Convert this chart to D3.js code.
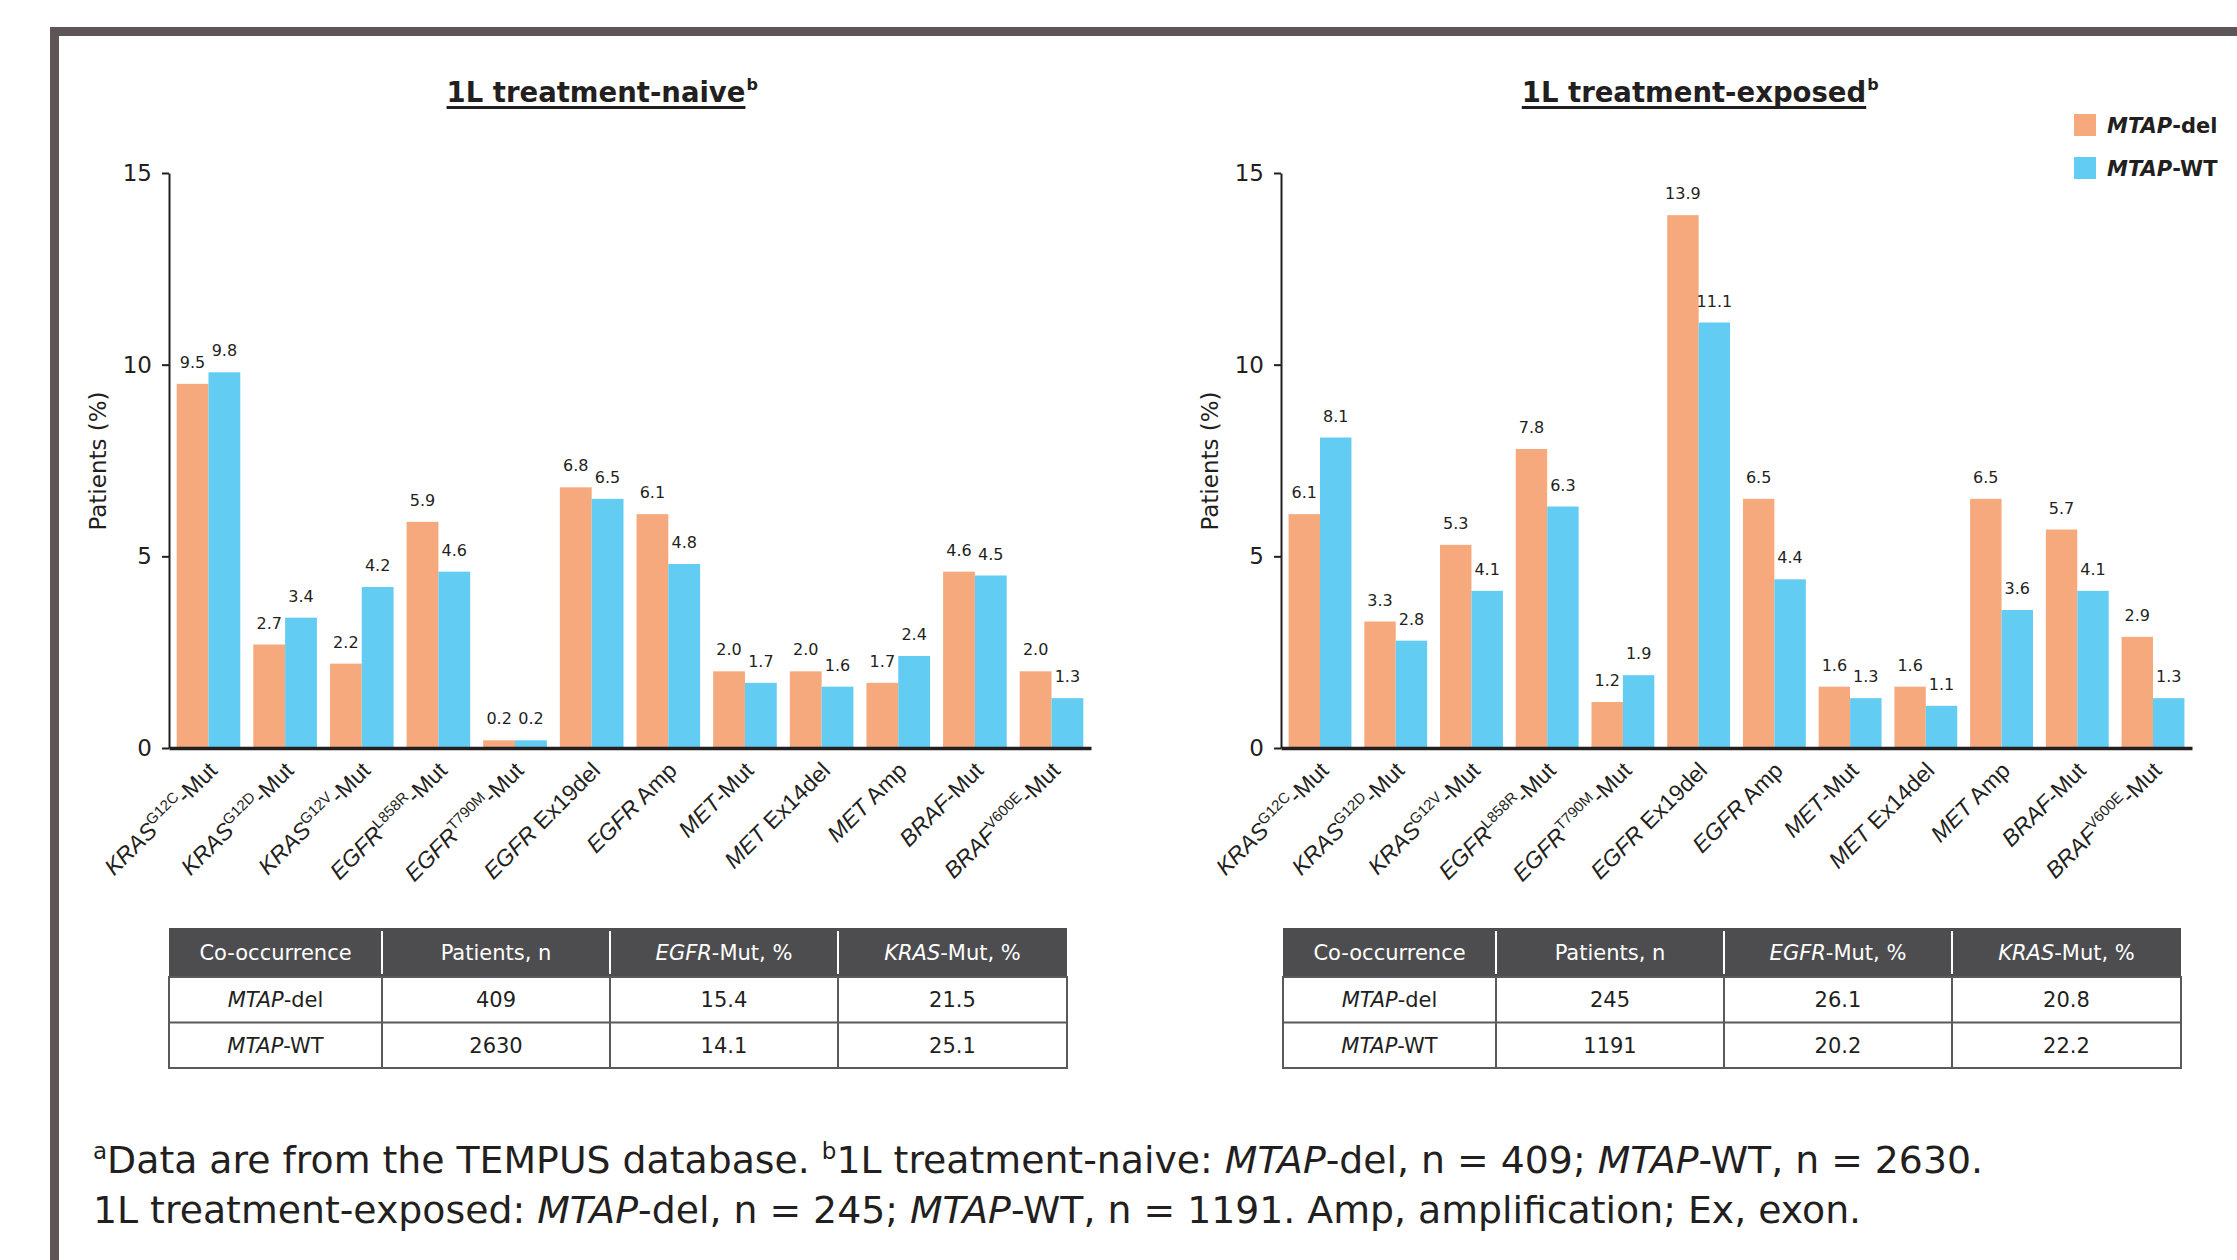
<!DOCTYPE html>
<html>
<head>
<meta charset="utf-8">
<script src="https://cdn.jsdelivr.net/npm/d3@7"></script>
<style>
  body { margin: 0; background: #fff; }
  svg { display: block; font-family: "DejaVu Sans", Verdana, sans-serif; }
</style>
</head>
<body>
<div id="chart"></div>
<script>
// categories: gene / superscript / suffix
const categoryGene = ["KRAS", "KRAS", "KRAS", "EGFR", "EGFR", "EGFR", "EGFR", "MET", "MET", "MET", "BRAF", "BRAF"]
const categorySup = ["G12C", "G12D", "G12V", "L858R", "T790M", "", "", "", "", "", "", "V600E"]
const categorySuffix = ["-Mut", "-Mut", "-Mut", "-Mut", "-Mut", " Ex19del", " Amp", "-Mut", " Ex14del", " Amp", "-Mut", "-Mut"]
const categories = categoryGene.map((g, i) => g + categorySup[i] + categorySuffix[i])

const seriesNames = ["MTAP-del", "MTAP-WT"]
const naiveDel = [9.5, 2.7, 2.2, 5.9, 0.2, 6.8, 6.1, 2.0, 2.0, 1.7, 4.6, 2.0]
const naiveWT = [9.8, 3.4, 4.2, 4.6, 0.2, 6.5, 4.8, 1.7, 1.6, 2.4, 4.5, 1.3]
const exposedDel = [6.1, 3.3, 5.3, 7.8, 1.2, 13.9, 6.5, 1.6, 1.6, 6.5, 5.7, 2.9]
const exposedWT = [8.1, 2.8, 4.1, 6.3, 1.9, 11.1, 4.4, 1.3, 1.1, 3.6, 4.1, 1.3]
const yTicks = [0, 5, 10, 15]

const tableHeaders = ["Co-occurrence", "Patients, n", "EGFR-Mut, %", "KRAS-Mut, %"]
const naiveTable = [["MTAP-del", "409", "15.4", "21.5"], ["MTAP-WT", "2630", "14.1", "25.1"]]
const exposedTable = [["MTAP-del", "245", "26.1", "20.8"], ["MTAP-WT", "1191", "20.2", "22.2"]]

const colors = { del: "#F6A97C", wt: "#62CCF3", ink: "#231f20", frame: "#5d5556", head: "#4d4d4f", grid: "#5a5a5c" }

const W = 2237, H = 1260

const svg = d3.select("#chart").append("svg")
  .attr("width", W)
  .attr("height", H)

// frame
svg.append("rect").attr("x", 50).attr("y", 27).attr("width", W - 50).attr("height", 9).attr("fill", colors.frame)
svg.append("rect").attr("x", 50).attr("y", 27).attr("width", 9).attr("height", H - 27).attr("fill", colors.frame)

// text with italic / superscript pieces
function richText(sel, segments, supSize, supShift) {
  let shift = 0
  segments.forEach(s => {
    const ts = sel.append("tspan").text(s.t)
    const target = s.sup ? -supShift : 0
    if (target !== shift) { ts.attr("dy", target - shift); shift = target }
    if (s.sup) ts.attr("font-size", supSize)
    if (s.it) ts.attr("font-style", "italic")
  })
}

// "EGFR-Mut, %" -> italic gene + rest
function geneSplit(str) {
  const m = str.match(/^(MTAP|EGFR|KRAS)(.*)$/)
  return m ? [{ t: m[1], it: true }, { t: m[2] }] : [{ t: str }]
}

function drawChart(opts) {
  const { x0, x1, title, titleX, del, wt } = opts
  const g = svg.append("g")

  const x = d3.scaleBand().domain(categories).range([x0, x1]).paddingInner(0.17).paddingOuter(0.1)
  const xs = d3.scaleBand().domain(seriesNames).range([0, x.bandwidth()])
  const y = d3.scaleLinear().domain([0, 15]).range([748, 173])

  // title
  const tt = g.append("text")
    .attr("x", titleX).attr("y", 102)
    .attr("text-anchor", "middle")
    .attr("font-size", 27.5).attr("font-weight", "bold")
    .attr("fill", colors.ink)
    .text(title)
  const len = tt.node().getComputedTextLength()
  g.append("text")
    .attr("x", titleX + len / 2 + 1).attr("y", 90)
    .attr("font-size", 16).attr("font-weight", "bold").attr("fill", colors.ink)
    .text("b")
  g.append("line")
    .attr("x1", titleX - len / 2).attr("x2", titleX + len / 2)
    .attr("y1", 107.5).attr("y2", 107.5)
    .attr("stroke", colors.ink).attr("stroke-width", 3)

  // bars
  const rows = categories.map((c, i) => ({ cat: c, vals: [{ s: "MTAP-del", v: del[i] }, { s: "MTAP-WT", v: wt[i] }] }))
  const grp = g.selectAll("g.grp").data(rows).enter().append("g")
    .attr("class", "grp")
    .attr("transform", d => `translate(${x(d.cat)},0)`)

  grp.selectAll("rect").data(d => d.vals).enter().append("rect")
    .attr("x", d => xs(d.s))
    .attr("y", d => y(d.v))
    .attr("width", xs.bandwidth())
    .attr("height", d => y(0) - y(d.v))
    .attr("fill", d => d.s === "MTAP-del" ? colors.del : colors.wt)

  grp.selectAll("text").data(d => d.vals).enter().append("text")
    .attr("x", d => xs(d.s) + xs.bandwidth() / 2)
    .attr("y", d => y(d.v) - 16)
    .attr("text-anchor", "middle")
    .attr("font-size", 16)
    .attr("fill", colors.ink)
    .text(d => d.v.toFixed(1))

  // y axis
  const yAxis = g.append("g")
    .attr("transform", `translate(${x0},0)`)
    .call(d3.axisLeft(y).tickValues(yTicks).tickSize(7).tickSizeOuter(0).tickPadding(10))
  yAxis.select(".domain").attr("stroke", colors.ink).attr("stroke-width", 2)
  yAxis.selectAll(".tick line").attr("stroke", colors.ink).attr("stroke-width", 2)
  yAxis.selectAll(".tick text").attr("font-size", 23).attr("fill", colors.ink)
    .attr("font-family", "DejaVu Sans")

  g.append("text")
    .attr("transform", `translate(${x0 - 63},461) rotate(-90)`)
    .attr("text-anchor", "middle")
    .attr("font-size", 23).attr("fill", colors.ink)
    .text("Patients (%)")

  // x axis
  const xAxis = g.append("g")
    .attr("transform", `translate(0,${y(0)})`)
    .call(d3.axisBottom(x).tickSize(0).tickSizeOuter(0).tickFormat(() => ""))
  xAxis.select(".domain").attr("stroke", colors.ink).attr("stroke-width", 3.5)
  xAxis.selectAll(".tick text").remove()
  xAxis.selectAll(".tick").each(function (d) {
    const i = categories.indexOf(d)
    const t = d3.select(this).append("text")
      .attr("transform", "translate(10,24) rotate(-45)")
      .attr("text-anchor", "end")
      .attr("font-size", 23)
      .attr("fill", colors.ink)
    const segs = [{ t: categoryGene[i], it: true }]
    if (categorySup[i]) segs.push({ t: categorySup[i], sup: true })
    segs.push({ t: categorySuffix[i] })
    richText(t, segs, 15, 9)
  })
}

function drawTable(left, rows) {
  const colW = [213, 228, 228, 229]
  const colX = d3.cumsum([left].concat(colW.slice(0, -1)))
  const totalW = d3.sum(colW)
  const top = 928, headH = 49, rowH = 45.5
  const g = svg.append("g")

  g.append("rect").attr("x", left).attr("y", top).attr("width", totalW).attr("height", headH).attr("fill", colors.head)
  colX.slice(1).forEach(cx => {
    g.append("line").attr("x1", cx).attr("x2", cx).attr("y1", top + 3).attr("y2", top + headH - 3)
      .attr("stroke", "#fff").attr("stroke-width", 2)
  })
  tableHeaders.forEach((h, j) => {
    const t = g.append("text")
      .attr("x", colX[j] + colW[j] / 2).attr("y", top + headH / 2).attr("dy", "0.36em")
      .attr("text-anchor", "middle").attr("font-size", 21).attr("fill", "#fff")
    richText(t, geneSplit(h), 14, 8)
  })

  const bodyTop = top + headH
  const bodyBottom = bodyTop + rowH * rows.length
  // body grid
  g.append("rect").attr("x", left).attr("y", bodyTop).attr("width", totalW).attr("height", bodyBottom - bodyTop)
    .attr("fill", "none").attr("stroke", colors.grid).attr("stroke-width", 2)
  rows.slice(1).forEach((r, i) => {
    const yy = bodyTop + rowH * (i + 1)
    g.append("line").attr("x1", left).attr("x2", left + totalW).attr("y1", yy).attr("y2", yy)
      .attr("stroke", colors.grid).attr("stroke-width", 2)
  })
  colX.slice(1).forEach(cx => {
    g.append("line").attr("x1", cx).attr("x2", cx).attr("y1", bodyTop).attr("y2", bodyBottom)
      .attr("stroke", colors.grid).attr("stroke-width", 2)
  })
  rows.forEach((r, i) => {
    r.forEach((cell, j) => {
      const t = g.append("text")
        .attr("x", colX[j] + colW[j] / 2).attr("y", bodyTop + rowH * i + rowH / 2).attr("dy", "0.36em")
        .attr("text-anchor", "middle").attr("font-size", 21).attr("fill", colors.ink)
      richText(t, geneSplit(cell), 14, 8)
    })
  })
}

drawChart({ x0: 169, x1: 1091, title: "1L treatment-naive", titleX: 596, del: naiveDel, wt: naiveWT })
drawChart({ x0: 1281, x1: 2192, title: "1L treatment-exposed", titleX: 1694, del: exposedDel, wt: exposedWT })

drawTable(169, naiveTable)
drawTable(1283, exposedTable)

// legend
const legend = svg.append("g").attr("transform", "translate(2074,114)")
seriesNames.forEach((s, i) => {
  legend.append("rect").attr("x", 0).attr("y", i * 43).attr("width", 22).attr("height", 22)
    .attr("fill", i === 0 ? colors.del : colors.wt)
  const t = legend.append("text").attr("x", 33).attr("y", i * 43 + 19)
    .attr("font-size", 21).attr("font-weight", "bold").attr("fill", colors.ink)
  richText(t, geneSplit(s), 14, 8)
})

// footnote
const foot1 = [
  { t: "a", sup: true }, { t: "Data are from the TEMPUS database. " }, { t: "b", sup: true },
  { t: "1L treatment-naive: " }, { t: "MTAP", it: true }, { t: "-del, n = 409; " },
  { t: "MTAP", it: true }, { t: "-WT, n = 2630." }
]
const foot2 = [
  { t: "1L treatment-exposed: " }, { t: "MTAP", it: true }, { t: "-del, n = 245; " },
  { t: "MTAP", it: true }, { t: "-WT, n = 1191. Amp, amplification; Ex, exon." }
]
richText(svg.append("text").attr("x", 93).attr("y", 1173).attr("font-size", 37.8).attr("fill", colors.ink), foot1, 23, 14)
richText(svg.append("text").attr("x", 93).attr("y", 1223).attr("font-size", 37.8).attr("fill", colors.ink), foot2, 23, 14)
</script>
</body>
</html>
